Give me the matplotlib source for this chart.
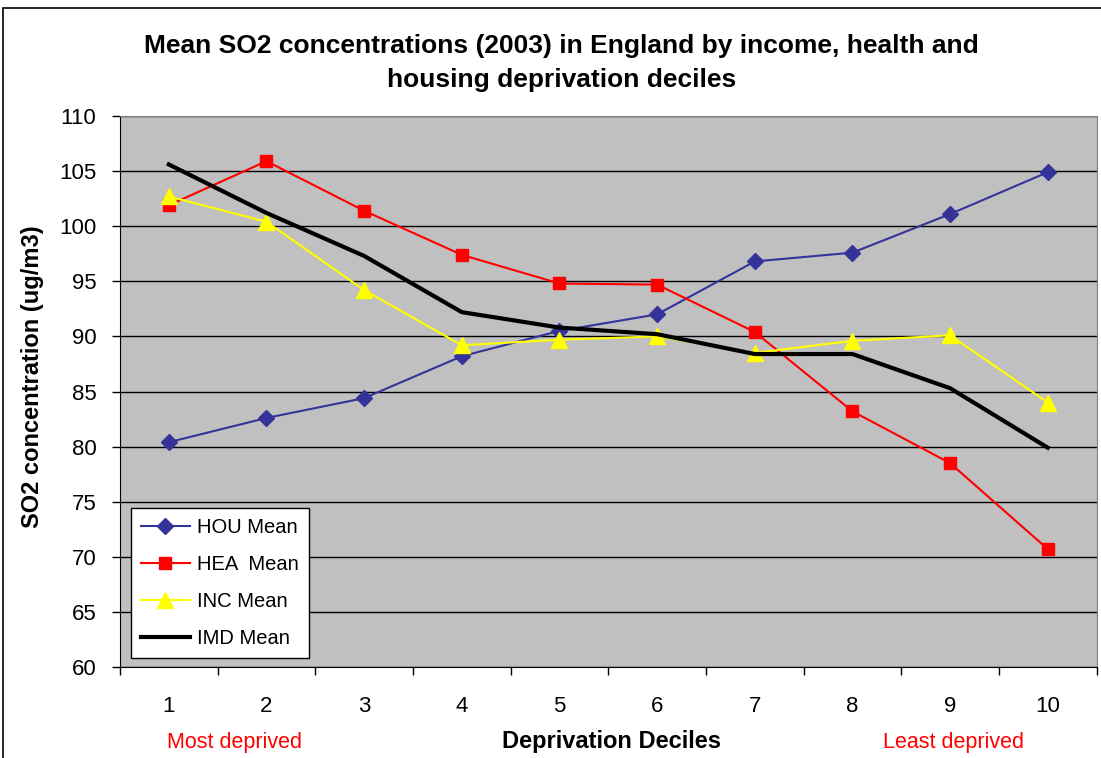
import matplotlib.pyplot as plt
from matplotlib.patches import Rectangle

plt.rcParams['font.family'] = ['Liberation Sans', 'DejaVu Sans']

deciles = [1, 2, 3, 4, 5, 6, 7, 8, 9, 10]
hou = [80.4, 82.6, 84.4, 88.2, 90.5, 92.0, 96.8, 97.6, 101.1, 104.9]
hea = [101.9, 105.9, 101.4, 97.4, 94.8, 94.7, 90.4, 83.2, 78.5, 70.7]
inc = [102.7, 100.4, 94.2, 89.2, 89.7, 90.0, 88.5, 89.6, 90.1, 84.0]
imd = [105.6, 101.2, 97.3, 92.2, 90.8, 90.2, 88.4, 88.4, 85.3, 79.9]

fig = plt.figure(figsize=(11.01, 7.58), dpi=100)
ax = fig.add_axes([0.109, 0.120, 0.887, 0.727])
ax.set_facecolor('#C0C0C0')

ax.plot(deciles, hou, color='#333399', lw=1.5, marker='D', ms=8, label='HOU Mean', zorder=3)
ax.plot(deciles, hea, color='#FF0000', lw=1.5, marker='s', ms=9, label='HEA  Mean', zorder=3)
ax.plot(deciles, inc, color='#FFFF00', lw=1.5, marker='^', ms=11, label='INC Mean', zorder=3)
ax.plot(deciles, imd, color='black', lw=3, label='IMD Mean', zorder=4)

ax.set_xlim(0.5, 10.5)
ax.set_ylim(60, 110)
ax.set_yticks(range(60, 111, 5))
ax.yaxis.grid(True, color='black', lw=1)
ax.set_axisbelow(True)

# category ticks between deciles, labels at centres
ax.set_xticks([x + 0.5 for x in range(0, 11)])
ax.set_xticklabels([])
ax.set_xticks(deciles, minor=True)
ax.set_xticklabels([str(d) for d in deciles], minor=True)
ax.tick_params(axis='x', which='major', direction='out', length=6, width=1)
ax.tick_params(axis='x', which='minor', length=0, pad=21, labelsize=16)
ax.tick_params(axis='y', direction='out', length=6, width=1, labelsize=16, pad=11)

for s in ['top', 'right']:
    ax.spines[s].set_color('#808080')
for s in ['left', 'bottom']:
    ax.spines[s].set_color('black')

ax.set_ylabel('SO2 concentration (ug/m3)', fontsize=17, fontweight='bold')
ax.yaxis.set_label_coords(-0.078, 0.526)

fig.text(0.51, 0.939, 'Mean SO2 concentrations (2003) in England by income, health and',
         ha='center', va='center', fontsize=19, fontweight='bold')
fig.text(0.51, 0.894, 'housing deprivation deciles',
         ha='center', va='center', fontsize=19, fontweight='bold')

fig.text(0.555, 0.0224, 'Deprivation Deciles', ha='center', va='center', fontsize=17, fontweight='bold')
fig.text(0.213, 0.0198, 'Most deprived', ha='center', va='center', fontsize=15.5, color='red')
fig.text(0.866, 0.0198, 'Least deprived', ha='center', va='center', fontsize=15.5, color='red')

leg = ax.legend(loc='lower left', bbox_to_anchor=(0.011, 0.016), borderaxespad=0,
                fontsize=14.5, frameon=True, fancybox=False, edgecolor='black',
                facecolor='white', framealpha=1, handlelength=2.45, labelspacing=0.9,
                borderpad=0.5, handletextpad=0.35)
leg.get_frame().set_linewidth(1)

fig.patches.append(Rectangle((0.003, -0.01), 1.1, 0.9995, transform=fig.transFigure,
                             fill=False, edgecolor='black', lw=1.2))

fig.savefig('out.png', dpi=100)
